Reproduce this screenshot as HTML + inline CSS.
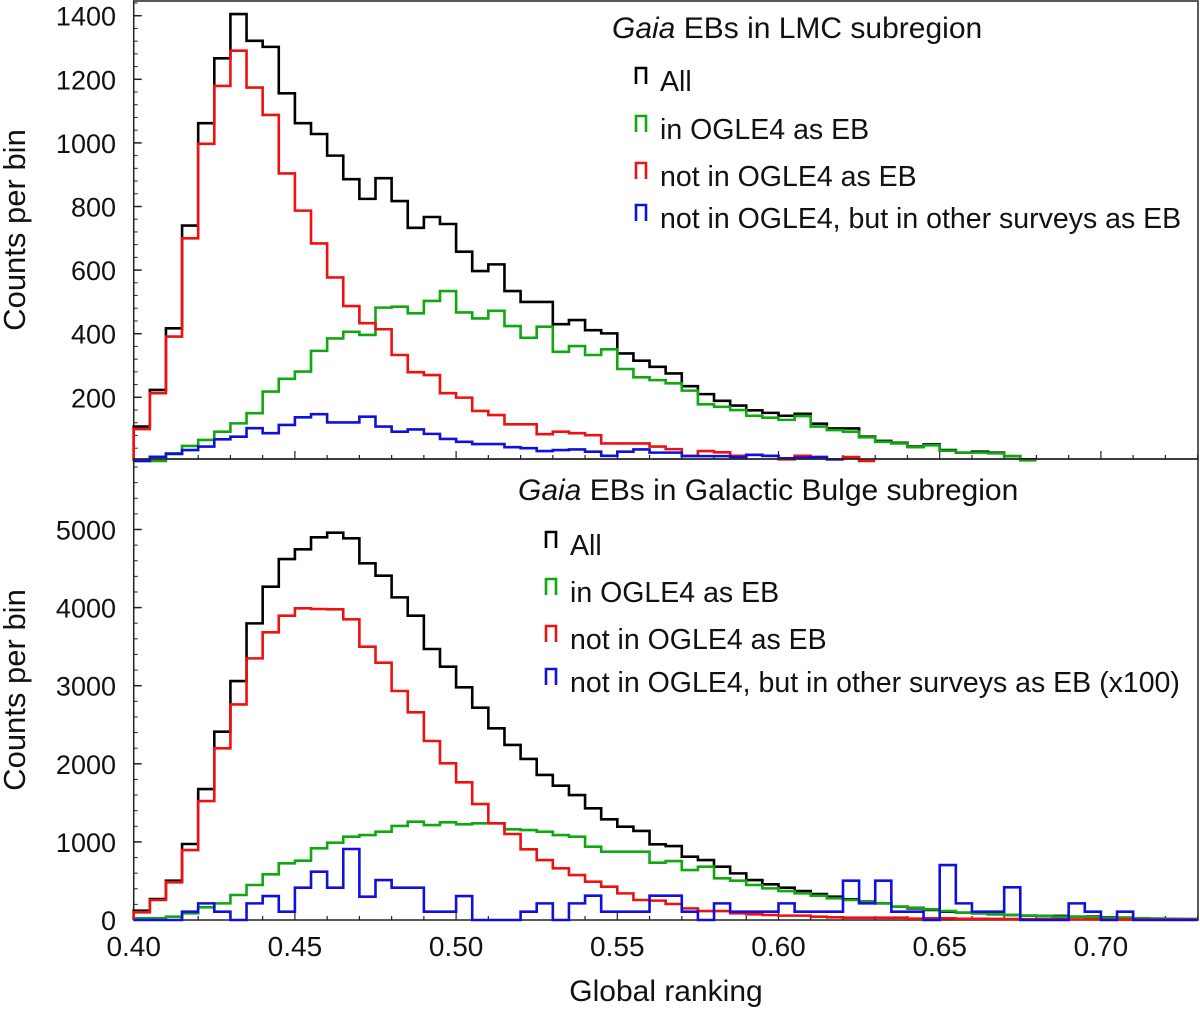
<!DOCTYPE html>
<html><head><meta charset="utf-8">
<style>
body{margin:0;background:#fff;}
svg text{font-family:"Liberation Sans","DejaVu Sans",sans-serif;fill:#111;}
</style></head>
<body>
<svg id="chart" width="1200" height="1009" viewBox="0 0 1200 1009" xmlns="http://www.w3.org/2000/svg">
<g id="top"></g>
<g id="bot"></g>
<text x="666" y="1001" font-size="30" text-anchor="middle">Global ranking</text>
</svg>
<script>
const binStart = 0.40;
const binWidth = 0.005;
const xTicks = [0.40,0.45,0.50,0.55,0.60,0.65,0.70];
const xTickLabels = ["0.40","0.45","0.50","0.55","0.60","0.65","0.70"];

const lmcAll = [108,223,417,740,1062,1266,1405,1321,1302,1156,1062,1028,960,886,824,889,817,733,767,745,658,597,618,534,500,500,430,443,411,401,338,315,296,275,235,210,189,174,159,151,142,148,117,102,102,76,63,57,45,52,34,26,29,26,15,5];
const lmcInOgle = [0,0,24,47,66,92,118,150,218,258,281,346,385,406,396,482,485,464,503,534,467,448,472,424,387,422,343,361,333,351,289,263,254,244,221,178,170,160,142,136,129,141,108,97,92,74,60,55,43,49,32,26,26,24,15,2];
const lmcNotOgle = [100,213,391,700,997,1179,1290,1174,1088,904,787,684,577,487,433,414,333,279,270,213,199,157,144,115,115,84,92,87,81,55,55,55,45,37,16,31,27,16,19,16,5,16,12,5,12,0];
const lmcOther = [0,13,22,34,45,68,76,103,87,113,137,147,121,121,139,108,92,99,85,69,60,53,53,43,40,31,34,36,29,16,29,36,26,26,15,15,15,12,19,16,8,10,12,5];
const lmcYTicks = [200,400,600,800,1000,1200,1400];

const gbAll = [119,269,504,973,1677,2411,3060,3798,4268,4622,4746,4900,4959,4887,4567,4409,4131,3896,3470,3244,2979,2718,2454,2241,2062,1857,1720,1600,1430,1289,1195,1140,969,947,811,768,683,597,512,457,414,371,333,299,265,235,213,171,149,128,107,94,85,73,64,56,52,52,43,43,34,30,21,17,13,9];
const gbInOgle = [21,21,43,85,162,213,320,448,585,726,760,918,990,1067,1088,1131,1204,1259,1216,1251,1225,1238,1238,1161,1152,1131,1088,1067,939,875,875,875,734,755,640,683,534,504,448,405,371,341,311,277,256,226,213,171,158,137,115,94,85,73,64,56,52,43,43,34,30,26,21,17,13,13];
const gbNotOgle = [98,256,482,896,1523,2198,2760,3350,3683,3896,3991,3982,3978,3850,3500,3295,2932,2659,2292,2006,1763,1485,1238,1101,905,768,662,576,491,427,341,256,248,205,149,115,115,85,73,64,56,56,43,34,30,30,30,30,17,21,21,15,15,13,12,10,10,9,8,8,7,6,6,5,5,5];
const gbOther = [0,0,0,107,213,107,0,213,307,107,414,619,414,909,299,512,414,414,107,107,307,0,0,0,107,213,0,213,311,107,107,107,311,311,107,0,213,107,107,107,213,107,107,107,504,213,504,107,107,0,704,213,107,107,418,0,0,0,213,107,0,107,0,0,0,0];
const gbYTicks = [0,1000,2000,3000,4000,5000];

const NS="http://www.w3.org/2000/svg";
const PX0=133.7, PXW=161.2/0.05, XR=1198;
function xs(v){return PX0+(v-binStart)*PXW;}
function mk(tag,attrs,parent){const e=document.createElementNS(NS,tag);for(const k in attrs)e.setAttribute(k,attrs[k]);parent.appendChild(e);return e;}

function panel(g,cfg){
  const ys=v=>cfg.y0-v*cfg.k;
  const fr=mk('rect',{x:PX0,y:cfg.top,width:XR-PX0,height:cfg.y0b-cfg.top,fill:'none',stroke:'#222','stroke-width':1.5},g);
  
  
  cfg.yticks.forEach(t=>{
    const y=ys(t);
    const l=mk('line',{x1:PX0,x2:PX0+8,y1:y,y2:y,stroke:'#222','stroke-width':1.5},g);
    
    
    const tx=mk('text',{x:116,y:y+10,'font-size':27,'text-anchor':'end'},g);
    tx.textContent=t;
    
    
  });
  for(let v=cfg.minor;ys(v)>cfg.top;v+=cfg.minor){
    const y=ys(v);
    const l=mk('line',{x1:PX0,x2:PX0+4,y1:y,y2:y,stroke:'#222','stroke-width':1},g);
    
    
  }
  for(let v=0.40;v<0.7301;v+=0.01){
    const x=xs(v);const major=Math.abs((v*100)%5)<0.01||Math.abs((v*100)%5-5)<0.01;
    const l=mk('line',{x1:x,x2:x,y1:cfg.y0b,y2:cfg.y0b-(major?8:4),stroke:'#222','stroke-width':1.2},g);
    
    
  }
  const yt=mk('text',{x:0,y:0,'font-size':31,'text-anchor':'middle',transform:`translate(25,${cfg.ylabY}) rotate(-90)`},g);
  yt.textContent='Counts per bin';
  
  
  cfg.series.forEach(s=>{
    let d=`M${xs(binStart)},${ys(0)}`;
    s.data.forEach((v,i)=>{
      const xa=xs(binStart+i*binWidth), xb=xs(binStart+(i+1)*binWidth);
      d+=` L${xa},${ys(v)} L${Math.min(xb,XR)},${ys(v)}`;
    });
    const p=mk('path',{d:d,fill:'none',stroke:s.color,'stroke-width':2.6,'stroke-linejoin':'miter'},g);
    
    
  });
  const tt=mk('text',{x:cfg.titleX,y:cfg.legY,'font-size':30},g);
  tt.innerHTML='<tspan font-style="italic">Gaia</tspan> EBs in '+cfg.region;
  
  
  cfg.series.forEach((s,i)=>{
    const y=cfg.legY+cfg.legRows[i];
    const m=mk('path',{d:`M${cfg.legX-24},${y+2} L${cfg.legX-24},${y-14} L${cfg.legX-14},${y-14} L${cfg.legX-14},${y+2}`,fill:'none',stroke:s.color,'stroke-width':2.6},g);
    
    
    const t=mk('text',{x:cfg.legX,y:y+9,'font-size':28.5},g);
    t.textContent=s.label;
    
    
  });
}

panel(document.getElementById('top'),{
  top:1,y0:460.9,y0b:459,k:0.318,yticks:lmcYTicks,minor:40,ylabY:230,
  legX:660,titleX:612,legY:38,legRows:[44,92,139,181],region:'LMC subregion',
  series:[
    {name:'lmc-all-series',color:'#000',data:lmcAll,label:'All'},
    {name:'lmc-in-ogle4-series',color:'#10a810',data:lmcInOgle,label:'in OGLE4 as EB'},
    {name:'lmc-not-in-ogle4-series',color:'#ee1111',data:lmcNotOgle,label:'not in OGLE4 as EB'},
    {name:'lmc-other-surveys-series',color:'#1010dd',data:lmcOther,label:'not in OGLE4, but in other surveys as EB'}
  ]});
panel(document.getElementById('bot'),{
  top:459,y0:920,y0b:920,k:0.0781,yticks:gbYTicks,minor:200,ylabY:690,
  legX:570,titleX:518,legY:500,legRows:[46,93,140,183],region:'Galactic Bulge subregion',
  series:[
    {name:'bulge-all-series',color:'#000',data:gbAll,label:'All'},
    {name:'bulge-in-ogle4-series',color:'#10a810',data:gbInOgle,label:'in OGLE4 as EB'},
    {name:'bulge-not-in-ogle4-series',color:'#ee1111',data:gbNotOgle,label:'not in OGLE4 as EB'},
    {name:'bulge-other-surveys-series',color:'#1010dd',data:gbOther,label:'not in OGLE4, but in other surveys as EB (x100)'}
  ]});
const svg=document.getElementById('chart');
xTicks.forEach((v,i)=>{
  const t=mk('text',{x:xs(v),y:956,'font-size':28,'text-anchor':'middle'},svg);
  t.textContent=xTickLabels[i];
  
  
});
</script>
</body></html>
